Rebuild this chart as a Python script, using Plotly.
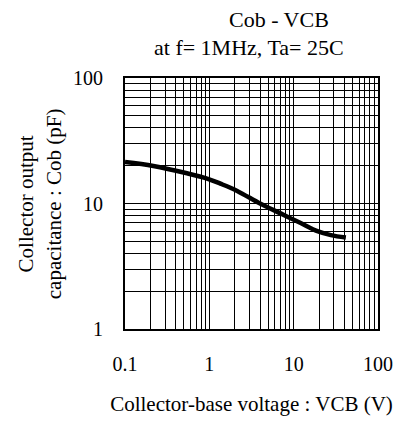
import plotly.graph_objects as go

# Curve data
vcb = [0.1, 0.217, 0.543, 0.94, 1.35, 2.14, 4.05, 7.0, 12.1, 19.1, 27.6, 41.6]
cob = [21.4, 19.9, 17.4, 15.8, 14.4, 12.6, 9.95, 8.34, 6.98, 6.02, 5.6, 5.35]

x_tickvals = [m * 10 ** e for e in (-1, 0, 1) for m in range(1, 10)] + [100]
x_ticktext = ["0.1"] + [""] * 8 + ["1"] + [""] * 8 + ["10"] + [""] * 8 + ["100"]
y_tickvals = [m * 10 ** e for e in (0, 1) for m in range(1, 10)] + [100]
y_ticktext = ["1"] + [""] * 8 + ["10"] + [""] * 8 + ["100"]

font_family = "Liberation Serif"

fig = go.Figure()
fig.add_trace(go.Scatter(
    x=vcb, y=cob, mode="lines",
    line=dict(color="black", width=4.5, shape="spline", smoothing=1.0),
    showlegend=False, hoverinfo="skip",
))

axis_common = dict(
    type="log", showgrid=True, gridcolor="black", gridwidth=1,
    showline=True, linecolor="black", linewidth=2, mirror=True,
    ticks="", zeroline=False,
    tickfont=dict(family=font_family, size=20, color="black"),
)

fig.update_layout(
    width=408, height=424,
    margin=dict(l=125, r=30, t=78, b=86),
    paper_bgcolor="white", plot_bgcolor="white",
    font=dict(family=font_family, color="black"),
    xaxis=dict(range=[-1, 2], tickvals=x_tickvals, ticktext=x_ticktext,
               ticklabelstandoff=16,
               title=dict(text="Collector-base voltage : VCB (V)",
                          font=dict(family=font_family, size=21), standoff=22),
               **axis_common),
    yaxis=dict(range=[0, 2], tickvals=y_tickvals, ticktext=y_ticktext,
               ticklabelstandoff=16, **axis_common),
    annotations=[
        dict(text="Cob - VCB", xref="paper", yref="paper", x=0.607, y=1.235,
             xanchor="center", yanchor="middle", showarrow=False,
             font=dict(family=font_family, size=22, color="black")),
        dict(text="at f= 1MHz, Ta= 25C", xref="paper", yref="paper", x=0.492, y=1.123,
             xanchor="center", yanchor="middle", showarrow=False,
             font=dict(family=font_family, size=22, color="black")),
        dict(text="Collector output<br>capacitance : Cob (pF)", xref="paper", yref="paper",
             x=-0.337, y=0.5, xanchor="center", yanchor="middle", textangle=-90,
             showarrow=False, font=dict(family=font_family, size=21, color="black")),
    ],
)

fig.write_html("out.html", config={"displayModeBar": False},
               post_script="document.body.style.margin='0';")
